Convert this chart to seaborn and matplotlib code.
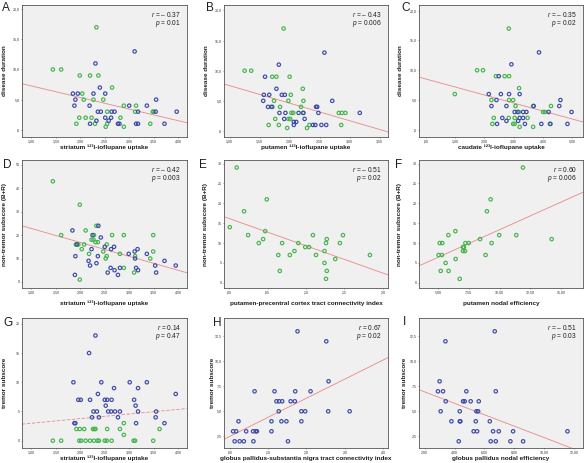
import numpy as np
import matplotlib
matplotlib.use("Agg")
import matplotlib.pyplot as plt
import seaborn as sns
from matplotlib.ticker import FixedLocator, FixedFormatter

sns.set_theme(style="white")
plt.rcParams['font.family'] = ['Liberation Sans', 'DejaVu Sans']
plt.rcParams['mathtext.fontset'] = 'custom'
plt.rcParams['mathtext.rm'] = 'Liberation Sans'
plt.rcParams['mathtext.it'] = 'Liberation Sans:italic'

# ---------------- data ----------------
# Panel A: striatum uptake vs disease duration
a_green_x = [2.33, 1.44, 1.61, 1.99, 2.20, 2.37, 2.04, 2.07, 2.65, 2.27, 2.47, 2.55, 2.89, 3.14, 3.12,
             1.98, 2.11, 2.23, 1.92, 2.30, 2.55, 2.52, 2.82, 2.89, 3.43, 3.48, 3.50]
a_green_y = [17, 10, 10, 9, 9, 9, 6, 5, 7, 5, 5, 3, 4, 4, 3, 2, 2, 2, 1, 1, 1, 0.5, 2, 0.5, 1, 3, 3]
a_blue_x = [3.11, 2.31, 2.40, 1.85, 1.95, 2.27, 2.51, 1.90, 3.55, 1.88, 2.19, 3.00, 3.36, 2.36, 2.42,
            2.64, 2.70, 3.18, 3.54, 3.97, 2.51, 2.63, 2.33, 2.58, 2.20, 2.77, 2.80, 3.14, 3.18, 3.72]
a_blue_y = [13, 11, 7, 6, 6, 6, 6, 5, 5, 4, 4, 4, 4, 3, 3, 3, 3, 3, 3, 3, 2, 2, 1.5, 1.5, 1, 1, 1, 1, 1, 1]

# Panel B: putamen uptake vs disease duration
b_green_x = [1.90, 1.25, 1.36, 1.71, 1.78, 2.00, 2.22, 1.74, 1.98, 2.23, 2.02, 1.69, 1.84, 2.19, 2.03,
             2.06, 2.22, 2.82, 2.87, 2.93, 1.76, 1.98, 2.01, 1.65, 1.82, 2.33, 2.86, 1.96, 2.29]
b_green_y = [17, 10, 10, 9, 9, 9, 7, 5, 5, 5, 6, 4, 4, 4, 3, 3, 3, 3, 3, 3, 2, 2, 2, 1, 1, 1, 1, 0.5, 0.5]
b_blue_x = [2.58, 1.82, 1.59, 1.78, 1.57, 1.66, 1.87, 1.92, 1.56, 2.71, 1.64, 1.71, 2.44, 2.46, 1.83,
            1.93, 2.15, 2.23, 3.17, 2.48, 1.91, 2.25, 2.07, 2.11, 2.07, 2.39, 2.43, 2.53, 2.61]
b_blue_y = [13, 11, 9, 7, 6, 6, 6, 6, 5, 5, 4, 4, 4, 4, 3, 3, 3, 3, 3, 3, 2, 2, 1.5, 1.5, 1, 1, 1, 1, 1]

# Panel C: caudate uptake vs disease duration
c_green_x = [2.83, 1.75, 1.95, 2.39, 2.69, 2.84, 0.99, 3.18, 2.24, 2.84, 2.98, 3.06, 3.66, 4.27, 3.18,
             4.00, 4.06, 2.32, 2.83, 3.03, 3.47, 2.27, 2.98, 3.03, 3.20, 3.66, 4.23]
c_green_y = [17, 10, 10, 9, 9, 9, 6, 7, 5, 5, 5, 4, 4, 4, 3, 3, 3, 2, 2, 2, 2, 1, 1, 1, 0.5, 0.5, 1]
c_blue_x = [3.86, 2.92, 2.49, 2.15, 2.56, 2.84, 3.20, 4.59, 2.41, 2.24, 2.75, 3.68, 4.55, 3.03, 3.13,
            3.32, 3.43, 4.19, 4.97, 2.61, 3.20, 3.32, 2.75, 3.15, 2.43, 3.38, 3.94, 4.25, 4.83]
c_blue_y = [13, 11, 9, 6, 6, 6, 6, 5, 5, 4, 4, 4, 4, 3, 3, 3, 3, 3, 3, 2, 2, 2, 1.5, 1.5, 1, 1, 1, 1, 1]

# Panel D: striatum uptake vs non-tremor subscore
d_green_x = [1.44, 1.99, 1.61, 1.91, 1.96, 2.03, 2.08, 2.11, 2.33, 2.28, 2.23, 2.27, 2.31, 2.36, 2.65,
             2.89, 3.49, 2.54, 2.47, 2.54, 2.52, 2.81, 3.12, 3.49, 3.43, 2.18, 2.89, 3.10, 1.99]
d_green_y = [43, 33, 20, 16, 16, 14, 16, 22, 24, 20, 18, 18, 17, 17, 20, 20, 20, 16, 13, 11, 10, 12,
             11, 13, 10, 12, 6, 4, 1]
d_blue_x = [1.84, 2.37, 2.25, 2.42, 1.93, 2.50, 2.69, 2.63, 2.23, 3.17, 3.11, 2.99, 3.36, 1.90, 2.36,
            3.12, 2.17, 3.72, 2.33, 2.20, 3.53, 3.95, 2.62, 2.81, 3.14, 2.70, 3.18, 2.56, 3.55, 2.77, 1.89]
d_blue_y = [22, 24, 20, 19, 16, 15, 15, 14, 14, 14, 13, 12, 12, 11, 11, 10, 9, 9, 8, 7, 7, 7, 6, 6, 6,
            5, 5, 4, 4, 3, 3]

# Panel E: putamen-precentral connectivity vs non-tremor subscore
e_green_x = [0.010, 0.001, 0.0196, 0.0248, 0.0387, 0.0443, 0.047, 0.049, 0.064, 0.066, 0.069, 0.079,
             0.085, 0.090, 0.099, 0.104, 0.109, 0.113, 0.124, 0.124, 0.126, 0.127, 0.127, 0.126,
             0.138, 0.144, 0.148, 0.183]
e_green_y = [29, 14, 18, 12, 10, 11, 13, 21, 7, 3, 10, 7, 8, 10, 9, 9, 12, 7, 8, 5, 10, 11, 3, 1, 6, 10, 12, 7]

# Panel F: putamen nodal efficiency vs non-tremor subscore
f_green_x = [11.89, 9.27, 8.97, 5.84, 6.41, 5.14, 5.35, 5.05, 5.32, 5.62, 5.22, 5.86, 6.43, 6.76, 7.03,
             7.03, 7.19, 7.10, 7.22, 7.49, 8.41, 8.86, 9.35, 9.97, 11.35, 14.22]
f_green_y = [29, 21, 18, 12, 13, 10, 10, 7, 7, 5, 3, 3, 6, 1, 9, 8, 8, 9, 10, 10, 11, 7, 10, 12, 12, 11]

# Panel G: striatum uptake vs tremor subscore
g_green_x = [2.89, 3.62, 1.92, 1.99, 2.08, 2.26, 2.29, 2.31, 2.55, 2.81, 2.89, 1.44, 1.61, 1.98, 2.02,
             2.11, 2.20, 2.28, 2.35, 2.38, 2.50, 2.54, 2.64, 3.09, 3.12, 3.49]
g_green_y = [3, 2, 2, 2, 2, 2, 2, 2, 2, 2, 1, 0, 0, 0, 0, 0, 0, 0, 0, 0, 0, 0, 0, 0, 0, 0]
g_blue_x = [2.31, 2.18, 1.86, 2.43, 3.01, 3.36, 3.18, 2.69, 2.36, 3.95, 1.96, 2.01, 2.20, 2.50, 2.55,
            2.64, 3.10, 2.52, 3.13, 2.27, 2.34, 2.57, 2.63, 2.71, 2.81, 3.18, 3.55, 2.24, 2.38, 2.77,
            3.54, 1.90, 1.88, 3.14, 3.72]
g_blue_y = [18, 15, 10, 10, 10, 10, 9, 9, 8, 8, 7, 7, 7, 7, 7, 7, 7, 6, 6, 5, 5, 5, 5, 5, 5, 5, 5, 4, 4,
            4, 4, 3, 3, 3, 3]

# Panel H: GP-SN connectivity vs tremor subscore
h_blue_x = [0.177, 0.252, 0.258, 0.065, 0.117, 0.171, 0.211, 0.122, 0.129, 0.137, 0.159, 0.170, 0.128,
            0.187, 0.197, 0.257, 0.313, 0.023, 0.109, 0.135, 0.148, 0.187, 0.009, 0.017, 0.043, 0.061,
            0.068, 0.071, 0.109, 0.013, 0.026, 0.037, 0.062, 0.152]
h_blue_y = [13, 12, 8, 7, 7, 7, 7, 6, 6, 6, 6, 6, 5, 5, 5, 5, 5, 4, 4, 4, 4, 4, 3, 3, 3, 3, 3, 3, 3,
            2, 2, 2, 2, 2]

# Panel I: GP nodal efficiency vs tremor subscore
i_blue_x = [6.69, 3.39, 3.00, 2.89, 3.23, 4.79, 6.76, 3.41, 4.57, 4.68, 5.08, 5.62, 3.07, 4.35, 5.46,
            5.58, 3.79, 4.35, 4.39, 5.42, 6.36, 5.28, 5.51, 6.58, 6.96, 7.92, 11.56, 4.28, 6.42, 6.76,
            7.74, 8.59]
i_blue_y = [13, 12, 8, 7, 7, 7, 7, 6, 6, 6, 6, 6, 5, 5, 5, 5, 4, 4, 4, 4, 4, 3, 3, 3, 3, 3, 3, 2, 2, 2, 2, 2]

# tick positions and labels
uptake_ticks = [1.0, 1.5, 2.0, 2.5, 3.0, 3.5, 4.0]
uptake_labels = ["1,00", "1,50", "2,00", "2,50", "3,00", "3,50", "4,00"]
put_ticks = [1.0, 1.5, 2.0, 2.5, 3.0, 3.5]
put_labels = ["1,00", "1,50", "2,00", "2,50", "3,00", "3,50"]
caud_ticks = [0, 1, 2, 3, 4, 5]
caud_labels = [",00", "1,00", "2,00", "3,00", "4,00", "5,00"]
dur_ticks = [0, 5, 10, 15, 20]
dur_labels = [",0", "5,0", "10,0", "15,0", "20,0"]
nt50_ticks = [0, 10, 20, 30, 40, 50]
nt50_labels = ["0", "10", "20", "30", "40", "50"]
nt30_ticks = [0, 5, 10, 15, 20, 25, 30]
nt30_labels = ["0", "5", "10", "15", "20", "25", "30"]
conn_e_ticks = [0.0, 0.05, 0.10, 0.15, 0.20]
conn_e_labels = [",00", ",05", ",10", ",15", ",20"]
eff_f_ticks = [5.0, 7.5, 10.0, 12.5, 15.0]
eff_f_labels = ["5,00", "7,50", "10,00", "12,50", "15,00"]
tr20_ticks = [0, 5, 10, 15, 20]
tr20_labels = ["0", "5", "10", "15", "20"]
conn_h_ticks = [0.0, 0.1, 0.2, 0.3, 0.4]
conn_h_labels = [",00", ",10", ",20", ",30", ",40"]
tr12_ticks = [2.5, 5.0, 7.5, 10.0, 12.5]
tr12_labels = ["2,5", "5,0", "7,5", "10,0", "12,5"]
eff_i_ticks = [2, 4, 6, 8, 10, 12]
eff_i_labels = ["2,00", "4,00", "6,00", "8,00", "10,00", "12,00"]

r_texts = ["– 0.37", "– 0.43", "– 0.35", "– 0.42", "– 0.51", "0.60", "0.14", "0.67", "– 0.51"]
p_texts = ["0.01", "0.006", "0.02", "0.003", "0.02", "0.006", "0.47", "0.02", "0.03"]

x_labels = ["striatum ¹²³I-ioflupane uptake", "putamen ¹²³I-ioflupane uptake",
            "caudate ¹²³I-ioflupane uptake", "striatum ¹²³I-ioflupane uptake",
            "putamen-precentral cortex tract connectivity index", "putamen nodal efficiency",
            "striatum ¹²³I-ioflupane uptake",
            "globus pallidus-substantia nigra tract connectivity index",
            "globus pallidus nodal efficiency"]
y_labels = ["disease duration", "disease duration", "disease duration",
            "non-tremor subscore (B+R)", "non-tremor subscore (B+R)", "non-tremor subscore (B+R)",
            "tremor subscore", "tremor subscore", "tremor subscore"]
letters = ["A", "B", "C", "D", "E", "F", "G", "H", "I"]

# ---------------- styling ----------------
W, H = 585, 463
BLUE = '#3c4aa6'
GREEN = '#43b54a'
BG = '#f0f0f0'
LINE = '#e98888'
TXT = '#1e1e1e'

fig = plt.figure(figsize=(W / 100, H / 100), dpi=100)
fig.patch.set_facecolor('white')

cols = [(22, 187), (224, 388), (419, 583)]
rows = [(5, 137), (160, 288), (318, 448)]

panels = [
    dict(groups=[(a_green_x, a_green_y, GREEN), (a_blue_x, a_blue_y, BLUE)], xlim=(0.81, 4.18), ylim=(-1.2, 20.7),
         xt=(uptake_ticks, uptake_labels), yt=(dur_ticks, dur_labels)),
    dict(groups=[(b_green_x, b_green_y, GREEN), (b_blue_x, b_blue_y, BLUE)], xlim=(0.906, 3.64), ylim=(-1.0, 20.9),
         xt=(put_ticks, put_labels), yt=(dur_ticks, dur_labels)),
    dict(groups=[(c_green_x, c_green_y, GREEN), (c_blue_x, c_blue_y, BLUE)], xlim=(-0.23, 5.36), ylim=(-1.2, 20.95),
         xt=(caud_ticks, caud_labels), yt=(dur_ticks, dur_labels)),
    dict(groups=[(d_green_x, d_green_y, GREEN), (d_blue_x, d_blue_y, BLUE)], xlim=(0.81, 4.18), ylim=(-2.6, 52.1),
         xt=(uptake_ticks, uptake_labels), yt=(nt50_ticks, nt50_labels)),
    dict(groups=[(e_green_x, e_green_y, GREEN)], xlim=(-0.0065, 0.2065), ylim=(-1.3, 30.9),
         xt=(conn_e_ticks, conn_e_labels), yt=(nt30_ticks, nt30_labels)),
    dict(groups=[(f_green_x, f_green_y, GREEN)], xlim=(3.46, 16.76), ylim=(-1.3, 30.9),
         xt=(eff_f_ticks, eff_f_labels), yt=(nt30_ticks, nt30_labels)),
    dict(groups=[(g_green_x, g_green_y, GREEN), (g_blue_x, g_blue_y, BLUE)], xlim=(0.81, 4.18), ylim=(-1.25, 21.0),
         xt=(uptake_ticks, uptake_labels), yt=(tr20_ticks, tr20_labels), dashed=True),
    dict(groups=[(h_blue_x, h_blue_y, BLUE)], xlim=(-0.0148, 0.413), ylim=(1.33, 14.33),
         xt=(conn_h_ticks, conn_h_labels), yt=(tr12_ticks, tr12_labels)),
    dict(groups=[(i_blue_x, i_blue_y, BLUE)], xlim=(1.62, 12.6), ylim=(1.33, 14.33),
         xt=(eff_i_ticks, eff_i_labels), yt=(tr12_ticks, tr12_labels)),
]

xlab_off = [10.5, 10.5, 10.5, 15, 16, 15, 10, 10.5, 10.5]
ylab_off = [18, 18, 18, 18, 19, 19, 18, 12, 14]
letter_pos = [(2, 2), (206, 2), (401, 2), (3, 159), (199, 159), (395, 159), (3, 317), (213, 317), (403, 316)]

for k, spec in enumerate(panels):
    r, c = divmod(k, 3)
    l, rr = cols[c]
    t, b = rows[r]
    wpx, hpx = rr - l, b - t
    ax = fig.add_axes([l / W, 1 - b / H, wpx / W, hpx / H])
    ax.set_facecolor(BG)
    ax.set_xlim(spec['xlim'])
    ax.set_ylim(spec['ylim'])

    all_x, all_y = [], []
    for gx, gy, col in spec['groups']:
        sns.scatterplot(x=np.asarray(gx), y=np.asarray(gy), ax=ax, s=6, facecolors='none',
                        edgecolor=col, linewidth=0.85, zorder=3, legend=False)
        all_x += list(gx)
        all_y += list(gy)
    for coll in ax.collections:
        coll.set_facecolor('none')

    sns.regplot(x=np.asarray(all_x), y=np.asarray(all_y), ax=ax, scatter=False, ci=None,
                truncate=False,
                line_kws=dict(color=LINE, lw=0.6, ls=(0, (4, 2)) if spec.get('dashed') else '-', zorder=2))
    ax.set_xlim(spec['xlim'])
    ax.set_ylim(spec['ylim'])

    ax.xaxis.set_major_locator(FixedLocator(spec['xt'][0]))
    ax.xaxis.set_major_formatter(FixedFormatter(spec['xt'][1]))
    ax.yaxis.set_major_locator(FixedLocator(spec['yt'][0]))
    ax.yaxis.set_major_formatter(FixedFormatter(spec['yt'][1]))
    ax.tick_params(axis='both', which='major', bottom=True, left=True, length=1.0, width=0.4,
                   direction='out', labelsize=2.6, pad=0.6, colors='#444444', labelcolor='#333333')
    for sp in ax.spines.values():
        sp.set_visible(True)
        sp.set_color('#555555')
        sp.set_linewidth(0.6)

    ax.set_xlabel(x_labels[k], fontsize=4.6, fontweight='bold', color=TXT)
    ax.xaxis.label.set_va('center')
    ax.xaxis.set_label_coords(0.5, -xlab_off[k] / hpx)
    ax.set_ylabel(y_labels[k], fontsize=4.6, fontweight='bold', color=TXT)
    ax.yaxis.label.set_va('center')
    ax.yaxis.set_label_coords(-ylab_off[k] / wpx, 0.5)

    xr = 1 - 6 / wpx
    ax.text(xr, 1 - 9.5 / hpx, r'$r$ = ' + r_texts[k], transform=ax.transAxes, ha='right', va='center',
            fontsize=4.8, color=TXT)
    ax.text(xr, 1 - 18.5 / hpx, r'$p$ = ' + p_texts[k], transform=ax.transAxes, ha='right', va='center',
            fontsize=4.8, color=TXT)

    lx, ly = letter_pos[k]
    fig.text(lx / W, 1 - ly / H, letters[k], fontsize=8.5, ha='left', va='top', color=TXT)

fig.savefig("out.png", dpi=100, facecolor='white')
